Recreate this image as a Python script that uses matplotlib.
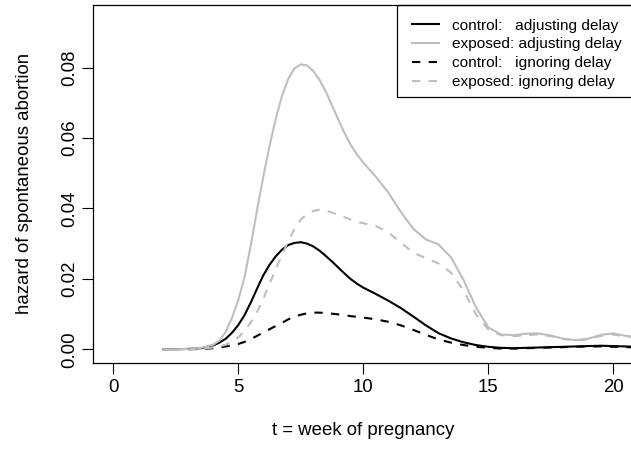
import numpy as np
import matplotlib
matplotlib.use("Agg")
import matplotlib.pyplot as plt
from matplotlib.patches import Rectangle
from matplotlib.ticker import FormatStrFormatter

plt.rcParams['font.family'] = ['Liberation Sans', 'DejaVu Sans']

# semana de embarazo (grilla comun para las cuatro curvas)
semanas = [2, 2.5, 3, 3.5,
           4, 4.25, 4.5, 4.75, 5, 5.25, 5.5, 5.75, 6, 6.25, 6.5, 6.75,
           7, 7.25, 7.5, 7.75, 8, 8.25, 8.5, 8.75, 9, 9.25, 9.5, 9.75, 10,
           10.5, 11, 11.5, 12, 12.5, 13, 13.5, 14, 14.5, 15, 15.5, 16, 16.5,
           17, 17.5, 18, 18.5, 19, 19.5, 20, 20.5, 21]

# hazard
control_ajustado = [0, 0, 0.0001, 0.0003,
                    0.0011, 0.0019, 0.0030, 0.0047, 0.0069, 0.0097, 0.0133, 0.0172, 0.0210,
                    0.0240, 0.0264, 0.0283, 0.0296, 0.0302, 0.0304, 0.0300, 0.0292, 0.0280,
                    0.0265, 0.0249, 0.0232, 0.0215, 0.0199, 0.0186, 0.0175,
                    0.0157, 0.0138, 0.0117, 0.0093, 0.0068, 0.0046, 0.0031, 0.0020, 0.0012,
                    0.0007, 0.0004, 0.0003, 0.0004, 0.0005, 0.0006, 0.0007, 0.0008, 0.0009,
                    0.0010, 0.0009, 0.0008, 0.0007]

expuesto_ajustado = [0, 0, 0.0001, 0.0004,
                     0.0013, 0.0025, 0.0050, 0.0090, 0.0140, 0.0205, 0.0295, 0.0395, 0.0490,
                     0.0578, 0.0655, 0.0720, 0.0768, 0.0798, 0.0809, 0.0806, 0.0790, 0.0765,
                     0.0732, 0.0692, 0.0652, 0.0614, 0.0580, 0.0553, 0.0530,
                     0.0490, 0.0445, 0.0390, 0.0342, 0.0312, 0.0298, 0.0262, 0.0198, 0.0120,
                     0.0062, 0.0042, 0.0040, 0.0044, 0.0045, 0.0039, 0.0030, 0.0026, 0.0030,
                     0.0041, 0.0045, 0.0038, 0.0034]

control_ignorado = [np.nan, np.nan, 0, 0.0001,
                    0.0003, 0.0005, 0.0008, 0.0011, 0.0015, 0.0021, 0.0029, 0.0038, 0.0048,
                    0.0057, 0.0066, 0.0075, 0.0085, 0.0093, 0.0098, 0.0102, 0.0104, 0.0104,
                    0.0103, 0.0101, 0.0099, 0.0097, 0.0094, 0.0092, 0.0090,
                    0.0085, 0.0078, 0.0068, 0.0055, 0.0041, 0.0028, 0.0019, 0.0012, 0.0007,
                    0.0004, 0.0002, 0.0002, 0.0003, 0.0004, 0.0005, 0.0006, 0.0007, 0.0008,
                    0.0008, 0.0007, 0.0006, 0.0005]

expuesto_ignorado = [np.nan, np.nan, 0, 0.0002,
                     0.0005, 0.0008, 0.0013, 0.0022, 0.0034, 0.0052, 0.0076, 0.0106, 0.0143,
                     0.0186, 0.0228, 0.0268, 0.0307, 0.0343, 0.0368, 0.0384, 0.0393, 0.0396,
                     0.0394, 0.0388, 0.0381, 0.0375, 0.0368, 0.0362, 0.0358,
                     0.0350, 0.0332, 0.0303, 0.0274, 0.0259, 0.0244, 0.0218, 0.0168, 0.0100,
                     0.0056, 0.0040, 0.0037, 0.0040, 0.0042, 0.0037, 0.0029, 0.0025, 0.0028,
                     0.0038, 0.0042, 0.0036, 0.0032]

etiquetas = ['control:   adjusting delay',
             'exposed: adjusting delay',
             'control:   ignoring delay',
             'exposed: ignoring delay']

x_ticks = [0, 5, 10, 15, 20]
y_ticks = [0.00, 0.02, 0.04, 0.06, 0.08]

GRIS = '#BEBEBE'

fig = plt.figure(figsize=(6.31, 4.55), dpi=100)
# el grafico original esta recortado a la derecha: el eje sale un poco del lienzo
ax = fig.add_axes([93.3 / 631, (455 - 362.5) / 455, 540 / 631, 357.5 / 455])

ax.plot(semanas, control_ajustado, color='black', lw=1.5, label=etiquetas[0])
ax.plot(semanas, expuesto_ajustado, color=GRIS, lw=1.5, label=etiquetas[1])
ax.plot(semanas, control_ignorado, color='black', lw=1.5, dashes=(4, 4), label=etiquetas[2])
ax.plot(semanas, expuesto_ignorado, color=GRIS, lw=1.5, dashes=(4, 4), label=etiquetas[3])

# limites estilo R (4% de margen)
ax.set_xlim(-0.8, 20.8)
ax.set_ylim(-0.00376, 0.09776)
ax.set_xticks(x_ticks)
ax.set_yticks(y_ticks)
ax.yaxis.set_major_formatter(FormatStrFormatter('%.2f'))
ax.tick_params(length=8, width=0.8, labelsize=13.4)
ax.tick_params(axis='x', pad=4)
ax.tick_params(axis='y', pad=3)
for lab in ax.get_yticklabels():
    lab.set_rotation(90)
    lab.set_va('center')
for s in ax.spines.values():
    s.set_linewidth(0.9)

ax.set_xlabel('t = week of pregnancy', fontsize=13.4)
ax.set_ylabel('hazard of spontaneous abortion', fontsize=13.4)
ax.xaxis.set_label_coords(0.5, -0.166)
ax.yaxis.set_label_coords(-0.1117, 0.5)

# leyenda sin marco y marco dibujado aparte (como en R)
ax.legend(loc='upper left', bbox_to_anchor=(0.5624, 1.003), frameon=False,
          fontsize=11.1, borderpad=0.95, handlelength=1.79, handletextpad=0.8,
          labelspacing=0.31, borderaxespad=0)
ax.add_patch(Rectangle((0.5624, 0.7427), 0.4376, 0.2573, transform=ax.transAxes,
                       fill=False, lw=0.9, edgecolor='black', clip_on=False))

fig.savefig('out.png', dpi=100)
